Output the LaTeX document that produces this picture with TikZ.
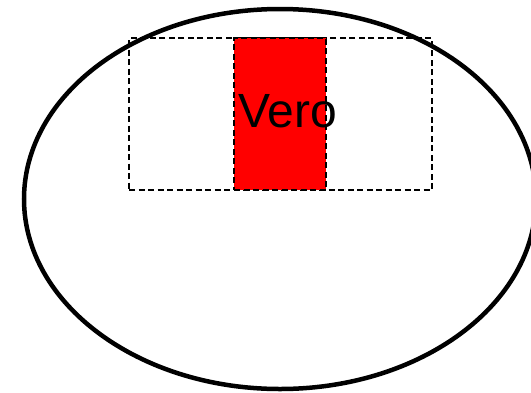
\documentclass[tikz,border=0pt]{standalone}
\usepackage{fontspec}
\setmainfont{Liberation Sans}
\usetikzlibrary{shapes.geometric,positioning}

\begin{document}
\begin{tikzpicture}[
  x=1pt, y=-1pt,
  outline/.style={ellipse, draw, line width=4.5pt, minimum width=512pt,
    minimum height=380pt, inner sep=0pt},
  frame/.style={rectangle, draw, dash pattern=on 6pt off 3.5pt, line width=1.5pt, inner sep=0pt},
  bar/.style={rectangle, draw, dash pattern=on 6pt off 3.5pt, line width=1.5pt, fill=red, inner sep=0pt},
  label/.style={font=\fontsize{48}{50}\selectfont, inner sep=0pt, anchor=base}
]
  \useasboundingbox (0,0) rectangle (531,392);
  \node[outline] (O) at (280,199) {};
  \node[frame, minimum width=303pt, minimum height=152pt] (F) at (280.5,114) {};
  \node[bar, minimum width=92pt, minimum height=152pt] (B) at (280,114) {};
  \node[label] (V) at (287.5,127) {Vero};
\end{tikzpicture}
\end{document}
